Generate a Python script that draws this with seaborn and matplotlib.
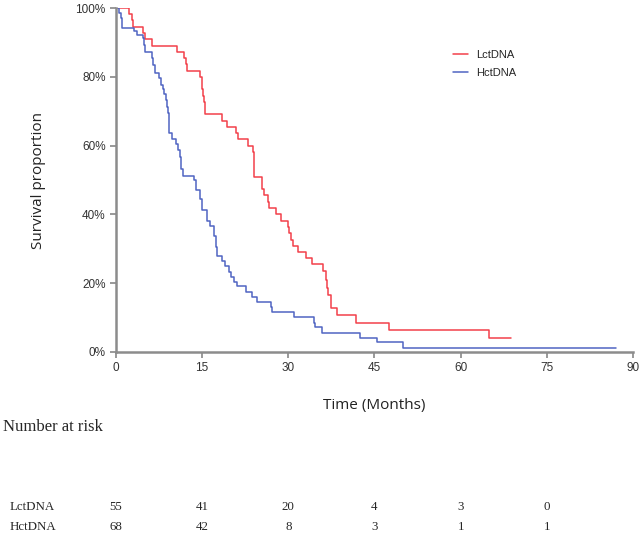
import matplotlib
matplotlib.use("Agg")
import matplotlib.pyplot as plt
import matplotlib.transforms as mtransforms
import seaborn as sns
import pandas as pd

# Kaplan-Meier step values (time in months, survival in %)
lct_time = [0, 2.3, 2.7, 2.9, 4.75, 5.05, 6.2, 10.7, 11.8, 12.2, 12.4, 14.6, 14.9, 15.1,
            15.3, 15.5, 18.5, 19.3, 20.9, 21.3, 23.0, 23.9, 24.1, 25.4, 25.8, 26.5, 26.7,
            27.9, 28.7, 29.9, 30.1, 30.5, 30.8, 31.6, 33.0, 34.2, 36.1, 36.6, 36.7, 36.9,
            37.4, 38.5, 41.7, 47.5, 65.0, 68.8]
lct_surv = [100, 98.2, 96.4, 94.5, 92.7, 90.9, 89.1, 87.3, 85.5, 83.6, 81.8, 80.0, 76.4, 74.5,
            72.7, 69.1, 67.3, 65.5, 63.6, 61.8, 60.0, 58.2, 50.9, 47.3, 45.5, 43.6, 41.8,
            40.0, 38.2, 36.4, 34.5, 32.7, 30.9, 29.1, 27.3, 25.5, 23.6, 20.9, 18.5, 16.5,
            12.7, 10.7, 8.5, 6.4, 4.1, 4.1]

hct_time = [0, 0.5, 0.8, 1.0, 1.1, 3.2, 3.7, 4.75, 4.9, 5.1, 6.2, 6.4, 6.8, 7.5, 7.9, 8.1,
            8.4, 8.7, 8.95, 9.1, 9.2, 9.3, 9.7, 10.4, 10.8, 11.1, 11.4, 11.7, 13.6, 14.0,
            14.6, 14.9, 15.8, 16.4, 17.1, 17.4, 17.6, 18.5, 19.0, 19.7, 20.0, 20.5, 21.0,
            22.6, 23.6, 24.6, 26.9, 27.1, 31.0, 34.5, 34.7, 35.8, 42.4, 45.4, 49.9, 87.0]
hct_surv = [100, 98.5, 97.0, 95.6, 94.1, 93.4, 92.2, 91.2, 89.2, 87.1, 85.4, 83.4, 81.2, 79.8,
            77.6, 76.4, 75.0, 73.3, 71.3, 69.4, 66.5, 63.6, 61.9, 60.4, 58.7, 56.8, 53.1,
            51.3, 50.0, 47.1, 44.5, 41.3, 38.2, 36.7, 33.6, 30.6, 27.9, 26.5, 25.0, 23.3,
            21.9, 20.4, 19.2, 17.4, 16.1, 14.6, 13.2, 11.7, 10.1, 8.5, 7.2, 5.6, 4.2, 2.8,
            1.3, 1.3]

groups = ["LctDNA", "HctDNA"]
colors = ["#f2404a", "#5064c2"]

risk_times = [0, 15, 30, 45, 60, 75]
risk_lct = [55, 41, 20, 4, 3, 0]
risk_hct = [68, 42, 8, 3, 1, 1]

df = pd.concat([
    pd.DataFrame({"time": lct_time, "surv": lct_surv, "group": "LctDNA"}),
    pd.DataFrame({"time": hct_time, "surv": hct_surv, "group": "HctDNA"}),
])

sns.set_style("ticks")
plt.rcParams["font.family"] = ["Liberation Sans", "DejaVu Sans"]

fig = plt.figure(figsize=(6.43, 5.36), dpi=100)
ax = fig.add_axes([0.1804, 0.3433, 0.804, 0.6417])

sns.lineplot(data=df, x="time", y="surv", hue="group", hue_order=groups,
             palette=colors, estimator=None, sort=False, drawstyle="steps-post",
             linewidth=1.1, ax=ax)

ax.set_xlim(0, 90)
ax.set_ylim(0, 100)
ax.set_xticks(range(0, 91, 15))
ax.set_yticks(range(0, 101, 20))
ax.set_yticklabels([f"{v}%" for v in range(0, 101, 20)])
ax.tick_params(axis="both", labelsize=8.5, colors="#888888", labelcolor="#333333",
               length=4, width=1.2)
for s in ["left", "bottom"]:
    ax.spines[s].set_color("#8c8c8c")
    ax.spines[s].set_linewidth(1.8)
sns.despine(ax=ax)

ax.set_xlabel("Time (Months)", fontsize=11, family=["Open Sans", "DejaVu Sans"],
              color="#222222", labelpad=17)
ax.set_ylabel("Survival proportion", fontsize=11, family=["Open Sans", "DejaVu Sans"],
              color="#222222", labelpad=21)

ax.legend(title=None, frameon=False, fontsize=8, loc="upper left",
          bbox_to_anchor=(0.632, 0.906), handlelength=1.4, handletextpad=0.75,
          labelspacing=0.7)

# number at risk table
fig.text(0.004, 0.203, "Number at risk", fontsize=12, family="Liberation Serif",
         va="center", ha="left")
trans = mtransforms.blended_transform_factory(ax.transData, fig.transFigure)
for name, vals, yy in [("LctDNA", risk_lct, 0.054), ("HctDNA", risk_hct, 0.017)]:
    fig.text(0.015, yy, name, fontsize=9.3, family="Liberation Serif", va="center")
    for t, v in zip(risk_times, vals):
        ax.text(t, yy, str(v), transform=trans, fontsize=9.3, family="Liberation Serif",
                ha="center", va="center")

fig.savefig("out.png", dpi=100)
